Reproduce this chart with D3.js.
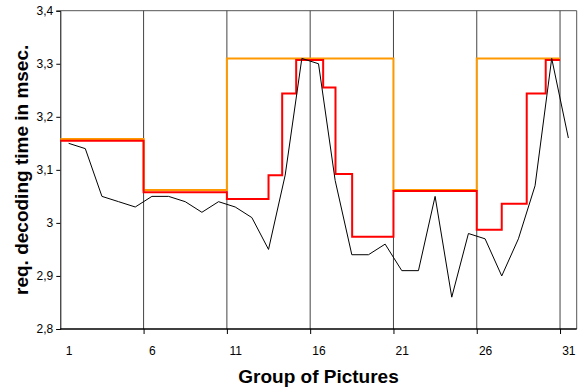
<!DOCTYPE html>
<html>
<head>
<meta charset="utf-8">
<script src="https://cdn.jsdelivr.net/npm/d3@7"></script>
<style>
  body { margin: 0; background: #fff; }
  text { font-family: Arial, "Liberation Sans", sans-serif; fill: #000; }
</style>
</head>
<body>
<div id="chart"></div>
<script>
const FRAME_WIDTH = 578;
const FRAME_HEIGHT = 387;
const PLOT = {left: 60.3, right: 576.7, top: 10.7, bottom: 329};

// measured decoding time per group of pictures (black line)
const groups = d3.range(1, 32);
const measured = [3.15, 3.14, 3.05, 3.04, 3.03, 3.05, 3.05, 3.04, 3.02, 3.04,
                  3.03, 3.01, 2.95, 3.09, 3.31, 3.30, 3.08, 2.94, 2.94, 2.96,
                  2.91, 2.91, 3.05, 2.86, 2.98, 2.97, 2.90, 2.97, 3.07, 3.31, 3.16];

// red step line: breakpoints (in group units) and levels
const redStepX = [0.5, 5.5, 10.5, 13, 13.82, 14.66, 16.28, 17.02, 18.02, 20.5, 25.5, 27, 28.5, 29.64, 30.5];
const redStepY = [3.155, 3.058, 3.045, 3.09, 3.244, 3.307, 3.255, 3.092, 2.974, 3.06, 2.987, 3.036, 3.244, 3.307, 3.307];

// orange step line
const orangeStepX = [0.5, 5.5, 10.5, 20.5, 25.5, 30.5];
const orangeStepY = [3.158, 3.062, 3.31, 3.062, 3.31, 3.31];

const xLabels = [1, 6, 11, 16, 21, 26, 31];
const xBounds = [5.5, 10.5, 15.5, 20.5, 25.5, 30.5];
const yTicks = [2.8, 2.9, 3.0, 3.1, 3.2, 3.3, 3.4];

const svg = d3.select("#chart")
  .append("svg")
    .attr("width", FRAME_WIDTH)
    .attr("height", FRAME_HEIGHT);

const x = d3.scaleLinear().domain([0.5, 31.5]).range([PLOT.left, PLOT.right]);
const y = d3.scaleLinear().domain([2.8, 3.4]).range([PLOT.bottom, PLOT.top]);

// plot frame (top + right)
svg.append("path")
  .attr("d", `M${PLOT.left},${PLOT.top}H${PLOT.right}V${PLOT.bottom}`)
  .attr("fill", "none")
  .attr("stroke", "#555")
  .attr("stroke-width", 1);

// vertical grid lines every 5 groups
svg.selectAll(".vgrid")
  .data(xBounds)
  .enter()
  .append("line")
    .attr("class", "vgrid")
    .attr("x1", d => x(d)).attr("x2", d => x(d))
    .attr("y1", PLOT.top).attr("y2", PLOT.bottom)
    .attr("stroke", "#444")
    .attr("stroke-width", 1);

// y axis
const yAxis = svg.append("g")
  .attr("transform", `translate(${PLOT.left},0)`)
  .call(d3.axisLeft(y).tickValues(yTicks).tickSize(4).tickPadding(3)
    .tickFormat(d => d3.format(".1f")(d).replace(".0", "").replace(".", ",")));
yAxis.select(".domain").attr("stroke", "#000");
yAxis.selectAll("text").attr("font-size", 12).attr("font-family", "Arial, 'Liberation Sans', sans-serif");

// x axis: tick marks at boundaries
const xTickAxis = svg.append("g")
  .attr("transform", `translate(0,${PLOT.bottom})`)
  .call(d3.axisBottom(x).tickValues(xBounds).tickSize(5).tickFormat(""));
xTickAxis.select(".domain").attr("stroke", "#000").attr("stroke-width", 1.5)
  .attr("d", `M${PLOT.left},0H${PLOT.right}`);

// x axis labels centered on groups
const xLabelAxis = svg.append("g")
  .attr("transform", `translate(0,${PLOT.bottom})`)
  .call(d3.axisBottom(x).tickValues(xLabels).tickSize(0).tickPadding(17.5));
xLabelAxis.select(".domain").remove();
xLabelAxis.selectAll("text").attr("font-size", 12).attr("font-family", "Arial, 'Liberation Sans', sans-serif");

// step lines
const stepLine = d3.line()
  .x(d => x(d[0]))
  .y(d => y(d[1]))
  .curve(d3.curveStepAfter);

svg.append("path")
  .datum(d3.zip(orangeStepX, orangeStepY))
  .attr("d", stepLine)
  .attr("fill", "none")
  .attr("stroke", "#ff9900")
  .attr("stroke-width", 2);

svg.append("path")
  .datum(d3.zip(redStepX, redStepY))
  .attr("d", stepLine)
  .attr("fill", "none")
  .attr("stroke", "#ff0000")
  .attr("stroke-width", 2);

// measured line
svg.append("path")
  .datum(d3.zip(groups, measured))
  .attr("d", d3.line().x(d => x(d[0])).y(d => y(d[1])))
  .attr("fill", "none")
  .attr("stroke", "#000")
  .attr("stroke-width", 1);

// axis titles
svg.append("text")
  .attr("x", (PLOT.left + PLOT.right) / 2)
  .attr("y", 383)
  .attr("text-anchor", "middle")
  .attr("font-size", 19)
  .attr("font-weight", "bold")
  .text("Group of Pictures");

svg.append("text")
  .attr("transform", `translate(27.5,${(PLOT.top + PLOT.bottom) / 2}) rotate(-90)`)
  .attr("text-anchor", "middle")
  .attr("font-size", 19)
  .attr("font-weight", "bold")
  .text("req. decoding time in msec.");
</script>
</body>
</html>
